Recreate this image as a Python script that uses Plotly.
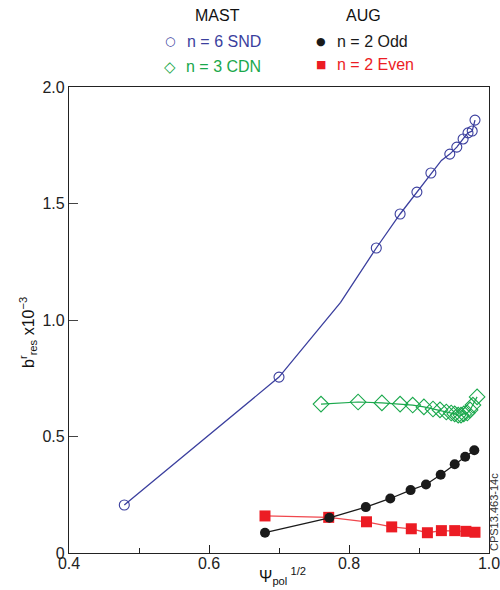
import plotly.graph_objects as go

# ---- data ----
snd_x = [0.479, 0.700, 0.839, 0.873, 0.897, 0.917, 0.944, 0.954, 0.963, 0.970, 0.976, 0.980]
snd_y = [0.206, 0.755, 1.309, 1.455, 1.549, 1.631, 1.712, 1.742, 1.777, 1.803, 1.811, 1.858]
# line path of the SND curve (includes bend points without markers)
snd_line_x = [0.479, 0.700, 0.788, 0.839, 0.873, 0.897, 0.917, 0.932, 0.944, 0.954, 0.963, 0.970, 0.976, 0.980]
snd_line_y = [0.206, 0.755, 1.076, 1.309, 1.455, 1.549, 1.631, 1.685, 1.712, 1.742, 1.777, 1.803, 1.811, 1.858]

cdn_x = [0.760, 0.813, 0.847, 0.873, 0.891, 0.907, 0.920, 0.930, 0.939, 0.946, 0.951, 0.956,
         0.960, 0.964, 0.969, 0.973, 0.977, 0.983]
cdn_y = [0.639, 0.648, 0.644, 0.639, 0.635, 0.627, 0.618, 0.614, 0.605, 0.601, 0.597, 0.592,
         0.592, 0.597, 0.601, 0.614, 0.635, 0.670]

odd_x = [0.680, 0.772, 0.824, 0.859, 0.888, 0.910, 0.931, 0.951, 0.966, 0.979]
odd_y = [0.087, 0.151, 0.197, 0.234, 0.270, 0.294, 0.336, 0.381, 0.413, 0.441]

even_x = [0.680, 0.771, 0.825, 0.861, 0.889, 0.912, 0.932, 0.951, 0.967, 0.980]
even_y = [0.159, 0.153, 0.134, 0.112, 0.104, 0.087, 0.096, 0.096, 0.093, 0.089]

x_tickvals = [0.4, 0.6, 0.8, 1.0]
x_ticktext = ["0.4", "0.6", "0.8", "1.0"]
y_tickvals = [0, 0.5, 1.0, 1.5, 2.0]
y_ticktext = ["0", "0.5", "1.0", "1.5", "2.0"]

BLUE = "#3b3f9e"
GREEN = "#1aa84c"
BLACK = "#1a1a1a"
RED = "#ec1c24"
FONT = "Liberation Sans, Arial, sans-serif"

W, H = 500, 590
L, R, T, B = 69, 11, 87, 37


def px(x):
    return (x - L) / (W - L - R)


def py(y):
    return (H - B - y) / (H - T - B)


fig = go.Figure()

fig.add_trace(go.Scatter(x=snd_line_x, y=snd_line_y, mode="lines",
                         line=dict(color=BLUE, width=1.3), hoverinfo="skip", showlegend=False))
fig.add_trace(go.Scatter(x=snd_x, y=snd_y, mode="markers",
                         marker=dict(symbol="circle-open", size=10, color=BLUE, line=dict(width=1.1)),
                         showlegend=False))
fig.add_trace(go.Scatter(x=cdn_x, y=cdn_y, mode="lines+markers",
                         line=dict(color=GREEN, width=1.2),
                         marker=dict(symbol="diamond-open", size=12, color=GREEN, line=dict(width=1.1)),
                         showlegend=False))
fig.add_trace(go.Scatter(x=even_x, y=even_y, mode="lines+markers",
                         line=dict(color="#f0474d", width=1.3),
                         marker=dict(symbol="square", size=11, color=RED),
                         showlegend=False))
fig.add_trace(go.Scatter(x=odd_x, y=odd_y, mode="lines+markers",
                         line=dict(color=BLACK, width=1.3),
                         marker=dict(symbol="circle", size=10, color=BLACK),
                         showlegend=False))

annotations = []


def ann(x, y, text, color="#111", size=16, family=FONT, xanchor="center", textangle=0):
    annotations.append(dict(x=px(x), y=py(y), xref="paper", yref="paper", text=text,
                            showarrow=False, xanchor=xanchor, yanchor="middle",
                            font=dict(color=color, size=size, family=family),
                            textangle=textangle))


# legend headers
ann(217, 15, "MAST", size=16)
ann(363, 16, "AUG", size=16)
# legend entries
ann(170, 41, "○", color=BLUE, size=12, family="DejaVu Sans")
ann(185, 41, "n = 6 SND", color=BLUE, xanchor="left")
ann(170, 67, "◇", color=GREEN, size=15, family="DejaVu Sans")
ann(184, 66, "n = 3 CDN", color=GREEN, xanchor="left")
ann(321, 42, "●", color=BLACK, size=11, family="DejaVu Sans")
ann(335, 41, "n = 2 Odd", color=BLACK, xanchor="left")
ann(321, 65, "■", color=RED, size=11, family="DejaVu Sans")
ann(335, 65, "n = 2 Even", color=RED, xanchor="left")

# axis titles
ann(282, 576, "Ψ<sub>pol</sub><sup> 1/2</sup>", size=16)
ann(28, 333, "b<sup>r</sup><sub>res</sub> x10<sup>−3</sup>", size=16, textangle=-90)
# figure code
ann(494, 512, "CPS13.463-14c", color="#333", size=11, textangle=-90)

fig.update_layout(
    width=W, height=H,
    margin=dict(l=L, r=R, t=T, b=B, pad=0),
    paper_bgcolor="white", plot_bgcolor="white",
    font=dict(family=FONT, size=16, color="#222"),
    annotations=annotations,
    showlegend=False,
)

fig.update_xaxes(range=[0.4, 1.0], tickvals=x_tickvals, ticktext=x_ticktext,
                 ticks="inside", ticklen=8, tickwidth=1, tickcolor="#222",
                 minor=dict(ticks="inside", ticklen=5, dtick=0.1, tick0=0.4, tickcolor="#222", showgrid=False),
                 showline=True, linecolor="#222", linewidth=1.2, mirror=True,
                 showgrid=False, zeroline=False, automargin=False,
                 ticklabeloverflow="allow", ticklabelstandoff=-4,
                 tickfont=dict(size=16, color="#222"))
fig.update_yaxes(range=[0, 2.0], tickvals=y_tickvals, ticktext=y_ticktext,
                 ticks="inside", ticklen=9, tickwidth=1, tickcolor="#444",
                 showline=True, linecolor="#222", linewidth=1.2, mirror=True,
                 showgrid=False, zeroline=False, automargin=False,
                 ticklabeloverflow="allow",
                 tickfont=dict(size=16, color="#222"))

# remove the browser's default 8px page margin so the 500x590 figure fills the window exactly
fig.write_html("out.html",
               config={"displayModeBar": False},
               post_script="document.body.style.margin='0';document.body.style.overflow='hidden';")
